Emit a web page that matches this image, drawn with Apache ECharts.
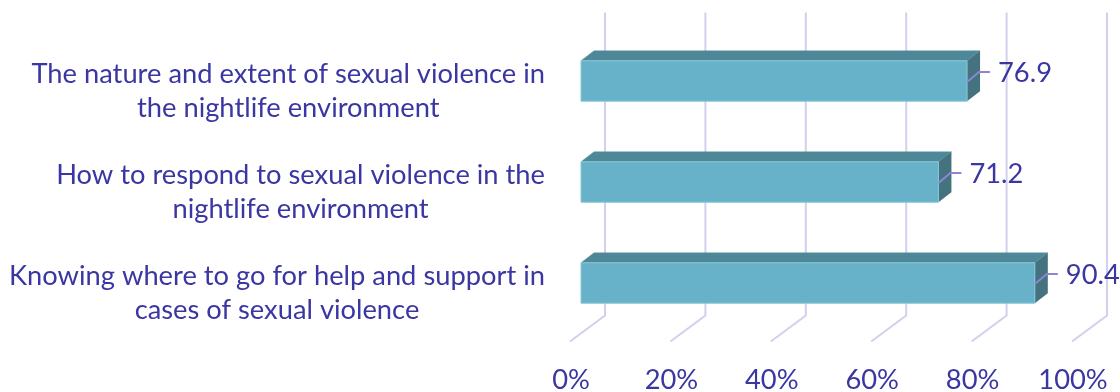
<!DOCTYPE html>
<html>
<head>
<meta charset="utf-8">
<script src="https://cdn.jsdelivr.net/npm/echarts@6/dist/echarts.min.js"></script>
<style>
  html, body { margin: 0; padding: 0; background: #ffffff; }
  #chart { width: 1120px; height: 392px; }
</style>
</head>
<body>
<div id="chart"></div>
<script>
// Survey topics (top to bottom) and the share of respondents, in percent
const categories = [
  'The nature and extent of sexual violence in\nthe nightlife environment',
  'How to respond to sexual violence in the\nnightlife environment',
  'Knowing where to go for help and support in\ncases of sexual violence'
];
const values = [76.9, 71.2, 90.4];
const ticks = [0, 20, 40, 60, 80, 100];

const TEXT = '#3a36a2';
const FONT = 'Lato';
const FS = 27.3;
const GRID = '#d3cfee';

// 3D depth of the bars and of the back wall
const DX = 13, DY = 10;

const chart = echarts.init(document.getElementById('chart'), null, { renderer: 'canvas' });

chart.setOption({
  animation: false,
  backgroundColor: '#ffffff',
  grid: {
    left: 581, right: 37, top: 30.5, bottom: 58.5,
    containLabel: false, outerBoundsMode: 'none'
  },
  xAxis: {
    type: 'value',
    min: 0, max: 100, interval: 20,
    splitLine: { show: false },
    axisLine: { show: false },
    axisTick: { show: false },
    axisLabel: {
      formatter: '{value}%',
      margin: 33,
      padding: [0, 20, 0, 0],
      hideOverlap: false,
      color: TEXT, fontFamily: FONT, fontSize: FS
    }
  },
  yAxis: {
    type: 'category',
    data: categories,
    inverse: true,
    axisLine: { show: false },
    axisTick: { show: false },
    splitLine: { show: false },
    axisLabel: {
      margin: 36,
      padding: [20, 0, 0, 0],
      formatter: v => v.split('\n').map(l => '{a|' + l + '}').join('\n'),
      rich: {
        a: { align: 'center', color: TEXT, fontFamily: FONT, fontSize: FS, lineHeight: 34 }
      }
    }
  },
  series: [
    {
      // perspective gridlines: back wall verticals plus floor diagonals
      type: 'custom',
      z: 1,
      silent: true,
      data: ticks.map(t => [t, 0]),
      encode: { x: 0, y: 1 },
      renderItem(params, api) {
        const cs = params.coordSys;
        const x = api.coord([api.value(0), 0])[0];
        const bx = x + 24, fx = x - 11;
        const top = cs.y - 18, back = cs.y + cs.height - 18, front = cs.y + cs.height + 8;
        return {
          type: 'polyline',
          shape: { points: [[bx, top], [bx, back], [fx, front]] },
          style: { stroke: GRID, lineWidth: 2, fill: null }
        };
      }
    },
    {
      type: 'custom',
      z: 2,
      data: values.map((v, i) => [v, i]),
      encode: { x: 0, y: 1 },
      renderItem(params, api) {
        const v = api.value(0), c = api.value(1);
        const p1 = api.coord([v, c]);
        const p0 = api.coord([0, c]);
        const band = api.size([0, 1])[1];
        const h = band * 0.4;
        const x0 = p0[0], x1 = p1[0], yc = p1[1];
        const yt = yc - h / 2, yb = yc + h / 2;
        return {
          type: 'group',
          children: [
            { type: 'polygon',
              shape: { points: [[x0, yt], [x1, yt], [x1 + DX, yt - DY], [x0 + DX, yt - DY]] },
              style: { fill: '#4e8797', stroke: '#5f98a8', lineWidth: 0.5 } },
            { type: 'polygon',
              shape: { points: [[x1, yt], [x1 + DX, yt - DY], [x1 + DX, yb - DY], [x1, yb]] },
              style: { fill: '#44737f' } },
            { type: 'rect',
              shape: { x: x0, y: yt, width: x1 - x0, height: h },
              style: { fill: '#67b2c9', stroke: '#88c6d9', lineWidth: 1 } },
            { type: 'polyline',
              shape: { points: [[x1, yc + 1], [x1 + 12, yc - 9], [x1 + 23, yc - 9]] },
              style: { stroke: '#8d85d4', lineWidth: 2, fill: null } },
            { type: 'text',
              style: {
                text: v.toFixed(1), x: x1 + 31, y: yc - 8,
                align: 'left', verticalAlign: 'middle',
                fill: TEXT, fontFamily: FONT, fontSize: FS
              } }
          ]
        };
      }
    }
  ]
});
</script>
</body>
</html>
